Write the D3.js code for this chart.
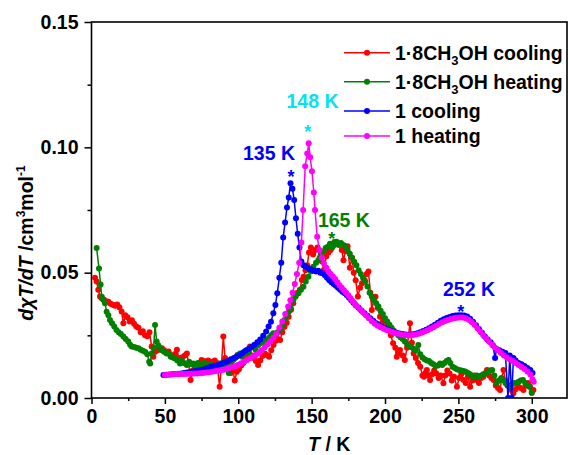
<!DOCTYPE html>
<meta charset="utf-8">
<script src="https://d3js.org/d3.v7.min.js"></script>
<style>
  body { margin: 0; background: #fff; }
  text { font-family: "Liberation Sans", Arial, sans-serif; font-weight: bold; }
</style>
<div id="my_dataviz"></div>
<script>

// data: [T (K), dχT/dT]
var coolingMeOH = [[2.4,0.048],[3.5,0.0465],[4.6,0.0432],[5.8,0.0405],[7,0.0398],[8.5,0.0392],[10,0.0386],[11.5,0.0384],[13,0.0376],[14.5,0.0372],[16,0.0368],[17.5,0.0373],[19,0.0362],[20.5,0.0345],[21.7,0.0298],[23,0.033],[24.5,0.0322],[26,0.0305],[27.5,0.031],[29,0.0296],[30.5,0.0285],[32,0.028],[33.5,0.0262],[35,0.0266],[36.5,0.025],[38,0.0246],[39.5,0.0262],[41,0.0205],[42.1,0.0165],[43.3,0.0185],[45,0.019],[46.5,0.0196],[48,0.0198],[49.5,0.019],[51,0.018],[52.5,0.0186],[54,0.0172],[55.7,0.0163],[57,0.0176],[58.2,0.0192],[59.5,0.016],[60.5,0.0145],[62,0.0163],[63.5,0.017],[65,0.0178],[66.3,0.0135],[67.5,0.0072],[69,0.011],[70.5,0.012],[72,0.013],[73.5,0.014],[75,0.0152],[76.5,0.0148],[78,0.0138],[79.5,0.015],[81,0.0145],[82.5,0.0135],[84,0.015],[85.5,0.014],[87.3,0.0045],[88.5,0.013],[89.8,0.0245],[91,0.016],[92.3,0.0125],[93.5,0.011],[95,0.01],[96.3,0.0115],[97.6,0.007],[99,0.0105],[100.5,0.0115],[102,0.013],[103.5,0.014],[105,0.016],[106.5,0.018],[108,0.0205],[109.3,0.017],[110.5,0.016],[112,0.0148],[113.5,0.0132],[115,0.015],[116.5,0.0168],[118,0.0178],[119.5,0.0172],[121,0.0165],[122.5,0.019],[124,0.0211],[125.5,0.0228],[127,0.0235],[128.5,0.0231],[130,0.0262],[131.5,0.0284],[133,0.03],[134.3,0.0324],[136,0.0352],[137.5,0.0378],[139,0.0405],[140.3,0.042],[142,0.0432],[143.3,0.0471],[144.5,0.0484],[145.8,0.051],[147,0.053],[148.2,0.058],[149.5,0.06],[151,0.0572],[152.5,0.059],[154,0.06],[155.5,0.056],[157,0.0545],[158.3,0.0511],[160,0.0565],[161.5,0.058],[163,0.059],[164.5,0.0605],[166,0.0612],[167.5,0.0617],[169,0.0615],[170.5,0.059],[171.7,0.055],[173,0.0585],[174.5,0.0605],[176,0.052],[177.5,0.056],[178.7,0.05],[180,0.047],[181.5,0.0405],[183,0.044],[184.3,0.0458],[186,0.047],[187.5,0.0495],[188.7,0.0505],[190,0.042],[191,0.0351],[192.2,0.039],[193.5,0.0404],[195,0.036],[196.6,0.0324],[198,0.03],[199.5,0.031],[201,0.0284],[202.5,0.027],[204,0.025],[205.5,0.0218],[207,0.02],[208,0.0165],[209,0.018],[210.2,0.0191],[212,0.017],[213.5,0.0152],[215,0.02],[217,0.0298],[218.3,0.022],[219.5,0.0178],[221,0.016],[222.5,0.014],[224,0.0125],[225.5,0.009],[226.5,0.0085],[227.5,0.01],[228.5,0.0112],[229.5,0.009],[230.7,0.0072],[232,0.0095],[233.5,0.011],[235,0.0098],[236.5,0.008],[238,0.009],[239.8,0.0059],[241,0.009],[242.5,0.011],[244,0.0098],[245.5,0.007],[247,0.0085],[249,0.0045],[250.5,0.008],[252,0.0095],[253.5,0.0072],[255,0.006],[256.5,0.0085],[258,0.0045],[259.5,0.007],[261,0.009],[262.5,0.0072],[264,0.006],[265.5,0.008],[267,0.0085],[268.5,0.01],[269.5,0.0112],[271,0.009],[272.5,0.008],[274,0.0072],[275.5,0.005],[277,0.004],[278.4,0.0032],[279.5,0.008],[280.7,0.0112],[282,0.007],[283.5,0.005],[285,0.004],[286.5,0.003],[287.5,0.0019],[289,0.0035],[290.9,0.0045],[292.5,0.004],[294.3,0.0032],[296,0.005],[297.5,0.006],[298.8,0.0045],[300,0.0025],[301.1,0.0032]];

var heatingMeOH = [[3.5,0.0598],[5.1,0.0517],[6.2,0.0453],[7,0.0404],[8,0.0392],[9.2,0.0378],[10.3,0.0344],[11.5,0.033],[12.6,0.0311],[14,0.0298],[15.5,0.0285],[17,0.0271],[18.5,0.0262],[20,0.0255],[21.7,0.0245],[23.3,0.0235],[25,0.0225],[26.3,0.0212],[27.4,0.0205],[29,0.0203],[30.5,0.02],[32,0.0198],[33.5,0.0192],[35,0.0188],[36.5,0.0185],[38,0.0175],[39.3,0.0145],[40,0.0138],[41,0.0178],[42.3,0.02],[43.3,0.0291],[44.4,0.0225],[45.5,0.021],[46.7,0.0198],[48,0.019],[49.5,0.0185],[51.2,0.0178],[52.5,0.0178],[54,0.0165],[55.5,0.0162],[56.9,0.0158],[58.5,0.015],[60.3,0.0138],[61.5,0.015],[63,0.014],[64.9,0.0132],[66.5,0.0145],[68,0.0135],[69.4,0.0138],[71,0.0128],[72.5,0.014],[73.9,0.0132],[75.5,0.0125],[77,0.014],[78.5,0.0132],[80,0.0128],[81.5,0.0135],[83,0.0125],[84.5,0.0118],[86,0.013],[87.6,0.0138],[89,0.0125],[90.5,0.0145],[92.1,0.0138],[93.5,0.01],[95,0.0135],[96.6,0.0152],[98,0.016],[99.5,0.0172],[101.2,0.0178],[102.5,0.0165],[104,0.0185],[105.8,0.0191],[107,0.018],[108.5,0.02],[110.3,0.0205],[112,0.019],[113.5,0.021],[114.8,0.0218],[116.5,0.0225],[118,0.022],[119.4,0.0231],[121,0.024],[122.5,0.025],[123.9,0.0258],[125.3,0.0252],[126.8,0.0262],[128.5,0.0271],[130,0.029],[131.5,0.0311],[133,0.033],[134.5,0.0345],[135.8,0.0358],[137.5,0.0391],[139,0.0405],[141,0.0418],[142.7,0.0432],[144.4,0.0444],[146,0.0465],[147.8,0.0484],[149.5,0.0505],[151.2,0.0524],[153,0.054],[154.6,0.055],[156.3,0.0568],[158,0.0584],[159.5,0.0598],[161,0.0603],[162.5,0.0615],[164,0.06],[165.5,0.0622],[167,0.0623],[168.5,0.061],[170,0.0618],[171.6,0.061],[173,0.0605],[174.5,0.059],[176,0.0575],[177.5,0.056],[179,0.0544],[180.5,0.053],[182,0.051],[183.5,0.0495],[185,0.048],[186.5,0.0465],[188,0.0445],[189.5,0.042],[191,0.0405],[192.5,0.039],[194,0.0378],[195.5,0.0365],[197,0.0348],[198.5,0.0335],[200,0.0318],[201.5,0.0305],[203,0.0292],[204.5,0.028],[206,0.0268],[207.5,0.026],[209,0.025],[210.5,0.0242],[212,0.0235],[213.5,0.0225],[215,0.0215],[216.5,0.0208],[218,0.0202],[219.5,0.0196],[221,0.019],[222.7,0.0211],[224,0.0175],[225.5,0.0162],[227,0.0155],[228.5,0.015],[230,0.0148],[231.5,0.014],[233,0.0135],[234.5,0.0128],[236,0.013],[237.5,0.0138],[239,0.0132],[240.5,0.014],[242,0.0148],[243.2,0.0152],[244.5,0.014],[246,0.0125],[247.5,0.012],[249,0.0115],[250.5,0.0112],[252,0.011],[253.5,0.0108],[255,0.0105],[256.5,0.01],[258,0.0095],[259.5,0.0088],[261,0.0085],[262.5,0.009],[264,0.0085],[265.5,0.009],[267,0.0095],[268.5,0.0098],[270,0.0105],[271.5,0.011],[273,0.0112],[274.5,0.009],[276,0.0059],[277.5,0.007],[279,0.0078],[280.5,0.0072],[282,0.006],[283.5,0.005],[285,0.0045],[286.5,0.0055],[288,0.006],[289.5,0.0059],[291,0.0065],[292.5,0.007],[294,0.0072],[295.5,0.006],[297,0.005],[298.5,0.0045],[300,0.002]];

var cooling1 = [[49,0.0092],[51,0.0093],[53,0.0094],[55,0.0095],[57,0.0096],[59,0.0097],[61,0.0098],[63,0.01],[65,0.0102],[67,0.0104],[69,0.0106],[71,0.0108],[73,0.011],[75,0.0112],[77,0.0115],[79,0.012],[81,0.0124],[83,0.0127],[85,0.013],[87,0.0133],[89,0.0138],[91,0.0143],[93,0.0148],[95,0.0155],[97,0.016],[99,0.0166],[101,0.0172],[103,0.018],[105,0.0188],[107,0.0195],[109,0.0203],[111,0.0212],[113,0.0222],[115,0.0233],[117,0.0248],[119,0.0265],[120.7,0.0285],[122.3,0.0304],[123.9,0.0338],[125.3,0.0371],[126.6,0.0418],[128,0.048],[129.3,0.054],[130.6,0.064],[131.9,0.07],[133.2,0.076],[134.4,0.08],[135.6,0.0857],[136.9,0.0835],[138.1,0.079],[139.3,0.0717],[140.5,0.0655],[141.7,0.06],[143,0.0545],[144.4,0.053],[145.8,0.0525],[147.2,0.052],[148.6,0.0515],[150,0.0512],[151.5,0.0508],[153,0.0505],[154.5,0.0508],[156,0.05],[157.5,0.0498],[159,0.049],[160.5,0.048],[162,0.047],[163.5,0.0462],[165,0.0455],[166.5,0.0448],[168,0.044],[169.5,0.0432],[171,0.0424],[172.5,0.0418],[174,0.041],[175.5,0.04],[177,0.039],[178.5,0.038],[180,0.037],[182,0.036],[184,0.0348],[186,0.0338],[188,0.0328],[190,0.0318],[192,0.0308],[194,0.0298],[196,0.029],[198,0.0284],[200,0.0278],[202,0.0272],[204,0.0268],[206,0.0264],[208,0.026],[210,0.0257],[212,0.0255],[214,0.0253],[216,0.0252],[218,0.0253],[220,0.0255],[222,0.0258],[224,0.0262],[226,0.0267],[228,0.0272],[230,0.0278],[232,0.0285],[234,0.0292],[236,0.03],[238,0.0308],[240,0.0314],[242,0.0319],[244,0.0323],[246,0.0327],[248,0.0329],[250,0.033],[252,0.033],[254,0.0329],[256,0.0325],[258,0.0316],[260,0.0304],[262,0.029],[264,0.0275],[266,0.026],[268,0.0245],[270,0.0232],[272,0.0222],[273.5,0.021],[275,0.016],[276,0.0195],[278,0.019],[280,0.0185],[282,0.018],[283.8,0],[285,0.017],[286.3,0],[287.5,0.016],[289,0.015],[291,0.014],[293,0.0135],[295,0.0128],[297,0.012],[299,0.0112],[300.5,0.01]];

var heating1 = [[50,0.0092],[52,0.0093],[54,0.0094],[56,0.0095],[58,0.0096],[60,0.0096],[62,0.0096],[64,0.0096],[66,0.0097],[68,0.0097],[70,0.0098],[72,0.0098],[74,0.0099],[76,0.01],[78,0.0102],[80,0.0103],[82,0.0105],[84,0.0107],[86,0.0109],[88,0.0111],[90,0.0113],[92,0.0116],[94,0.012],[96,0.0124],[98,0.0128],[100,0.0133],[102,0.0139],[104,0.0146],[106,0.0152],[108,0.0159],[110,0.0165],[112,0.0172],[114,0.018],[116,0.019],[118,0.0202],[120,0.0214],[122,0.0226],[124,0.024],[126,0.0256],[128,0.028],[130,0.0305],[132,0.0335],[134,0.0365],[135.5,0.039],[137,0.042],[138.5,0.0455],[140,0.0495],[141.5,0.054],[143,0.062],[144.2,0.075],[145.6,0.0925],[147,0.0975],[148,0.1016],[149,0.096],[150.2,0.0905],[151.5,0.082],[152.3,0.075],[153.8,0.0643],[155.3,0.059],[156.9,0.056],[158.4,0.0537],[160,0.052],[161.5,0.0505],[163,0.0495],[164.5,0.0485],[166,0.0475],[167.5,0.0462],[169,0.045],[170.5,0.044],[172,0.043],[173.5,0.042],[175,0.041],[176.5,0.0398],[178,0.0386],[179.5,0.0375],[181,0.0365],[183,0.0353],[185,0.0342],[187,0.033],[189,0.0318],[191,0.0306],[193,0.0296],[195,0.0288],[197,0.0282],[199,0.0276],[201,0.0271],[203,0.0267],[205,0.0263],[207,0.0259],[209,0.0256],[211,0.0253],[213,0.0251],[215,0.025],[217,0.025],[219,0.0251],[221,0.0253],[223,0.0256],[225,0.026],[227,0.0265],[229,0.027],[231,0.0276],[233,0.0282],[235,0.0289],[237,0.0296],[239,0.0302],[241,0.0307],[243,0.0311],[245,0.0315],[247,0.0318],[249,0.032],[251,0.0321],[253,0.0321],[255,0.0318],[257,0.0312],[259,0.0303],[261,0.0292],[263,0.0278],[265,0.0264],[267,0.025],[269,0.0237],[271,0.0224],[273,0.0212],[275,0.02],[277,0.019],[279,0.018],[281,0.017],[283,0.0162],[285,0.0155],[287,0.0148],[289,0.014],[291,0.0132],[293,0.0124],[295,0.0116],[297,0.0106],[299,0.0094],[300.5,0.0075],[301.3,0.0065]];

var seriesNames = ["1·8CH3OH cooling", "1·8CH3OH heating", "1 cooling", "1 heating"];
var seriesColors = ["#ff0000", "#008000", "#0000ff", "#ff00ff"];
var xTicks = [0, 50, 100, 150, 200, 250, 300];
var yTicks = [0.00, 0.05, 0.10, 0.15];

// peak labels: [T, value, text, colour]
var peakLabels = [[135, 0.0857, "135 K", "#0000ff"], [148, 0.1016, "148 K", "#00e5ee"],
                  [165, 0.0625, "165 K", "#008000"], [252, 0.0336, "252 K", "#0000ff"]];

// set the dimensions and margins of the graph
var W = 569, H = 455;
var margin = {top: 22, right: 2, bottom: 57, left: 91.5};
var width = W - margin.left - margin.right,
    height = H - margin.top - margin.bottom;

var svg = d3.select("#my_dataviz")
  .append("svg")
    .attr("width", W)
    .attr("height", H)
  .append("g")
    .attr("transform", "translate(" + margin.left + "," + margin.top + ")");

var x = d3.scaleLinear().domain([0, 324]).range([0, width]);
var y = d3.scaleLinear().domain([0, 0.15]).range([height, 0]);

// clip
svg.append("clipPath").attr("id", "clip")
  .append("rect").attr("width", width).attr("height", height);

// X axis, major + minor
svg.append("g")
  .attr("transform", "translate(0," + height + ")")
  .call(d3.axisBottom(x).tickValues(xTicks).tickSize(6).tickSizeOuter(0).tickPadding(5));
svg.append("g")
  .attr("transform", "translate(0," + height + ")")
  .call(d3.axisBottom(x).tickValues([25, 75, 125, 175, 225, 275]).tickSize(3).tickSizeOuter(0).tickFormat(""));

// Y axis, major + minor
svg.append("g")
  .call(d3.axisLeft(y).tickValues(yTicks).tickSize(7).tickSizeOuter(0).tickPadding(6).tickFormat(d3.format(".2f")));
svg.append("g")
  .call(d3.axisLeft(y).tickValues([0.025, 0.075, 0.125]).tickSize(4).tickSizeOuter(0).tickFormat(""));

svg.selectAll(".domain").remove();
svg.selectAll(".tick line").attr("stroke", "#000").attr("stroke-width", 1.5);
svg.selectAll(".tick text").attr("font-size", "19.5px").attr("fill", "#000")
  .style("font-family", "'Liberation Sans', Arial, sans-serif").style("font-weight", "bold");

// frame
svg.append("rect")
  .attr("width", width).attr("height", height)
  .attr("fill", "none").attr("stroke", "#000").attr("stroke-width", 1.6);

// series
var allData = [coolingMeOH, heatingMeOH, cooling1, heating1];
var line = d3.line().x(function(d) { return x(d[0]); }).y(function(d) { return y(d[1]); });

var plot = svg.append("g").attr("clip-path", "url(#clip)");
allData.forEach(function(data, i) {
  var g = plot.append("g");
  g.append("path")
    .datum(data)
    .attr("d", line)
    .attr("fill", "none")
    .attr("stroke", seriesColors[i])
    .attr("stroke-width", 1.5);
  g.selectAll("circle")
    .data(data)
    .enter()
    .append("circle")
      .attr("cx", function(d) { return x(d[0]); })
      .attr("cy", function(d) { return y(d[1]); })
      .attr("r", 3)
      .attr("fill", seriesColors[i]);
});

// peak labels and asterisks (offsets from the peak point: label dx, dy, star dx, dy)
var labelOffsets = [[-20.6, -23.2, 1.4, -10.2], [3.8, -35.2, -1, -15.2], [10.3, -14.6, -2, -6.3], [7.7, -17.8, -0.6, -5.5]];
peakLabels.forEach(function(p, i) {
  var px = x(p[0]), py = y(p[1]);
  var o = labelOffsets[i];
  svg.append("text")
    .attr("x", px + o[0]).attr("y", py + o[1])
    .attr("text-anchor", "middle")
    .attr("font-size", "19.5px")
    .attr("fill", p[3])
    .text(p[2]);
  svg.append("text")
    .attr("x", px + o[2]).attr("y", py + o[3] + 10)
    .attr("text-anchor", "middle")
    .attr("font-size", "18px")
    .attr("fill", p[3])
    .text("*");
});

// legend
var legendY = [30.7, 59.7, 89, 114];
var legend = svg.append("g").attr("transform", "translate(" + (344 - margin.left) + ",0)");
seriesNames.forEach(function(name, i) {
  var row = legend.append("g").attr("transform", "translate(0," + legendY[i] + ")");
  row.append("line").attr("x1", 0).attr("x2", 46).attr("y1", 0).attr("y2", 0)
    .attr("stroke", seriesColors[i]).attr("stroke-width", 1.5);
  row.append("circle").attr("cx", 23).attr("cy", 0).attr("r", 3).attr("fill", seriesColors[i]);
  var t = row.append("text").attr("x", 51).attr("y", 7).attr("font-size", "19.5px").attr("fill", "#000");
  if (name.indexOf("CH3OH") >= 0) {
    var parts = name.split("CH3OH");
    t.append("tspan").text(parts[0] + "CH");
    t.append("tspan").attr("font-size", "13px").attr("dy", 5).text("3");
    t.append("tspan").attr("dy", -5).text("OH" + parts[1]);
  } else {
    t.text(name);
  }
});

// axis titles
var xt = svg.append("text")
  .attr("x", width / 2).attr("y", height + 53)
  .attr("text-anchor", "middle").attr("font-size", "19.5px");
xt.append("tspan").style("font-style", "italic").text("T");
xt.append("tspan").text(" / K");

var yt = svg.append("text")
  .attr("transform", "translate(" + (33 - margin.left) + "," + (243 - margin.top) + ") rotate(-90)")
  .attr("text-anchor", "middle").attr("font-size", "19.5px");
yt.append("tspan").style("font-style", "italic").text("d\u03C7T/dT");
yt.append("tspan").text(" /cm");
yt.append("tspan").attr("font-size", "12px").attr("dy", -8).text("3");
yt.append("tspan").attr("dy", 8).text("mol");
yt.append("tspan").attr("font-size", "12px").attr("dy", -8).text("-1");

</script>
